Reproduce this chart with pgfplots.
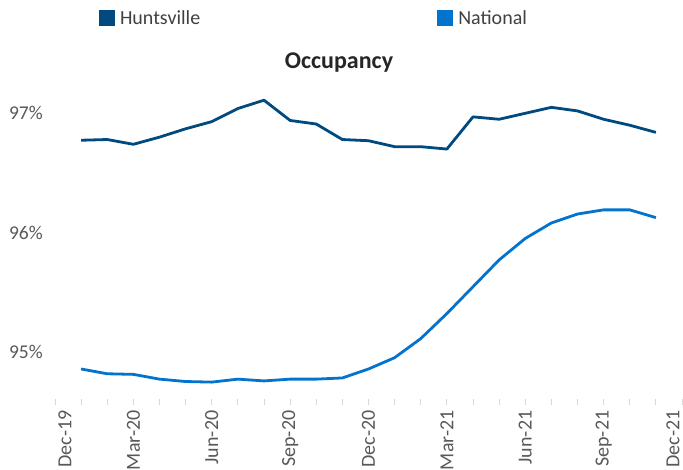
\documentclass[border=0pt]{standalone}
\usepackage{fontspec}
\setmainfont{Carlito}
\usepackage{pgfplots}
\pgfplotsset{compat=1.18}
\definecolor{hunts}{HTML}{004A80}
\definecolor{natl}{HTML}{0473CD}
\definecolor{ticktext}{HTML}{595959}
\definecolor{legtext}{HTML}{404040}
\definecolor{titletext}{HTML}{262626}
\definecolor{tickline}{HTML}{D9D9D9}
\begin{document}
\begin{tikzpicture}[x=1pt,y=1pt]
\begin{axis}[
  at={(55pt,69.6pt)}, anchor=south west,
  scale only axis, width=627pt, height=315.9pt,
  xmin=0, xmax=24, ymin=94.6, ymax=97.25,
  axis lines*=left,
  axis line style={draw=none},
  xtick={1,...,23},
  xticklabels={,,Mar-20,,,Jun-20,,,Sep-20,,,Dec-20,,,Mar-21,,,Jun-21,,,Sep-21,,},
  extra x ticks={0},
  extra x tick labels={Dec-19},
  extra x tick style={xticklabel style={yshift=-10pt}},
  ytick={95,96,97},
  yticklabels={95\%,96\%,97\%},
  tick align=outside,
  major tick length=6pt,
  x tick style={draw=tickline, line width=1pt},
  y tick style={draw=none},
  xticklabel style={rotate=90, anchor=east, inner sep=0pt, xshift=-5pt, font=\fontsize{20}{24}\selectfont, text=ticktext},
  yticklabel style={anchor=east, inner sep=0pt, xshift=-6pt, font=\fontsize{19.5}{22}\selectfont, text=ticktext},
  title={Occupancy},
  title style={at={(axis description cs:0.453,1.049)}, anchor=center, font=\fontsize{24}{28}\selectfont\bfseries, text=titletext},
  legend columns=2,
  legend image code/.code={\fill[#1,draw=none] (0pt,-8pt) rectangle (16pt,8pt);},
  legend style={at={(axis description cs:0.0702,1.207)}, anchor=west, draw=none, fill=none, inner sep=0pt, outer sep=0pt,
    nodes={inner sep=0pt, font=\fontsize{20}{24}\selectfont, text=legtext},
    /tikz/column sep=0pt,
    /tikz/every odd column/.append style={column sep=5pt},
    /tikz/every even column/.append style={column sep=237pt}},
  clip=false,
]
\addplot[color=hunts, line width=2.8pt, line join=round] coordinates {
(1,96.774) (2,96.78) (3,96.74) (4,96.80) (5,96.87) (6,96.93) (7,97.04) (8,97.11)
(9,96.94) (10,96.91) (11,96.78) (12,96.77) (13,96.72) (14,96.72) (15,96.70)
(16,96.97) (17,96.95) (18,97.00) (19,97.05) (20,97.02) (21,96.95) (22,96.90) (23,96.84)
};
\addlegendentry{Huntsville}
\addplot[color=natl, line width=2.8pt, line join=round] coordinates {
(1,94.855) (2,94.815) (3,94.81) (4,94.77) (5,94.75) (6,94.745) (7,94.77) (8,94.755)
(9,94.77) (10,94.77) (11,94.78) (12,94.855) (13,94.95) (14,95.11) (15,95.32)
(16,95.545) (17,95.77) (18,95.95) (19,96.08) (20,96.155) (21,96.19) (22,96.19) (23,96.125)
};
\addlegendentry{National}
\end{axis}
\begin{axis}[
  at={(55pt,69.6pt)}, anchor=south west,
  scale only axis, width=627pt, height=315.9pt,
  xmin=0, xmax=24, ymin=94.6, ymax=97.25,
  axis lines*=left, axis line style={draw=none},
  xtick={24}, xticklabels={Dec-21},
  ytick=\empty,
  tick align=outside, major tick length=6pt,
  x tick style={draw=tickline, line width=1pt},
  xticklabel style={rotate=90, anchor=east, inner sep=0pt, xshift=-5pt, yshift=9pt, font=\fontsize{20}{24}\selectfont, text=ticktext},
]
\end{axis}
\pgfresetboundingbox
\path[use as bounding box] (0,0) rectangle (683,469);
\end{tikzpicture}
\end{document}
